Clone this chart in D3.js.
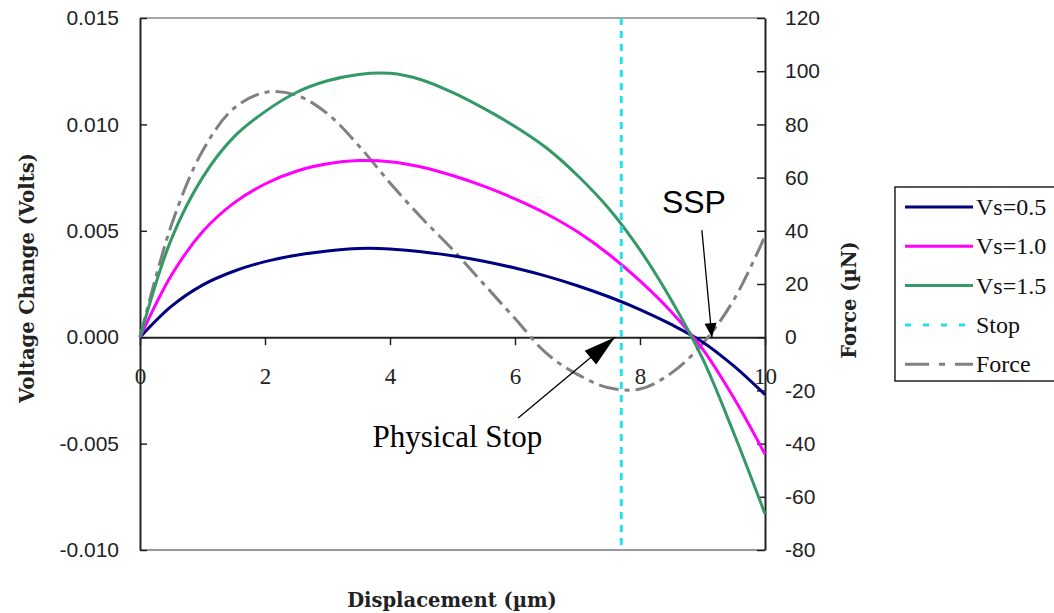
<!DOCTYPE html>
<html>
<head>
<meta charset="utf-8">
<script src="https://cdn.jsdelivr.net/npm/d3@7"></script>
<style>
  body { margin: 0; background: #fff; }
  svg { display: block; }
</style>
</head>
<body>
<div id="grafico"></div>
<script>
// Datos
const desplazamiento = [0, 0.5, 1, 1.5, 2, 2.5, 3, 3.5, 4, 4.5, 5, 5.5, 6, 6.5, 7, 7.5, 8, 8.5, 9, 9.5, 10];
const vs05 = [0, 0.00145, 0.00245, 0.0031, 0.00355, 0.00385, 0.00405, 0.00417, 0.00415, 0.00402, 0.00383, 0.00357, 0.00325, 0.00287, 0.00242, 0.0019, 0.0013, 0.0006, -0.00022, -0.00135, -0.0027];
const vs10 = [0, 0.0029, 0.00495, 0.0063, 0.0072, 0.0078, 0.00815, 0.0083, 0.00825, 0.0080, 0.0076, 0.0071, 0.0065, 0.0058, 0.00495, 0.0039, 0.00265, 0.0012, -0.00055, -0.00285, -0.0055];
const vs15 = [0, 0.0046, 0.0075, 0.0094, 0.0106, 0.0115, 0.01205, 0.01235, 0.0124, 0.0121, 0.0115, 0.01075, 0.0099, 0.0089, 0.0076, 0.00605, 0.0041, 0.00175, -0.0010, -0.0045, -0.0083];

const desplazamientoFuerza = [0, 0.5, 1, 1.5, 2, 2.5, 3, 3.5, 4, 4.5, 5, 5.5, 6, 6.5, 7, 7.5, 8, 8.5, 9, 9.5, 10];
const fuerza = [0, 42, 70, 86, 92, 91, 84, 72, 58, 45, 33, 20, 7, -6, -14, -19, -19.5, -13.5, -2.5, 14, 38];

const parada = 7.7;

const ticksVoltaje = [-0.010, -0.005, 0.000, 0.005, 0.010, 0.015];
const ticksFuerza = [-80, -60, -40, -20, 0, 20, 40, 60, 80, 100, 120];
const ticksDesp = [0, 2, 4, 6, 8, 10];

const series = [
    {nombre: "Vs=0.5", valores: vs05, color: "#000080"},
    {nombre: "Vs=1.0", valores: vs10, color: "#ff00ff"},
    {nombre: "Vs=1.5", valores: vs15, color: "#339966"}
];

const ancho = 1054, alto = 613;
const margin = {top: 18, right: 289, bottom: 63, left: 140};

// guion normal en lugar del signo menos de d3
function guion(fmt) {
    let f = d3.format(fmt);
    return function (d) { return f(d).replace("\u2212", "-"); };
}

let svg = d3.select("#grafico")
    .append("svg")
    .attr("width", ancho)
    .attr("height", alto);

let x = d3.scaleLinear()
    .domain([0, 10])
    .range([margin.left, ancho - margin.right]);

let yV = d3.scaleLinear()
    .domain([-0.010, 0.015])
    .range([alto - margin.bottom, margin.top]);

let yF = d3.scaleLinear()
    .domain([-80, 120])
    .range([alto - margin.bottom, margin.top]);

// Bordes superior e inferior
svg.append("line")
    .attr("x1", x(0)).attr("x2", x(10))
    .attr("y1", yV(0.015)).attr("y2", yV(0.015))
    .attr("stroke", "#a8a8a8").attr("stroke-width", 2);
svg.append("line")
    .attr("x1", x(0)).attr("x2", x(10))
    .attr("y1", yV(-0.010)).attr("y2", yV(-0.010))
    .attr("stroke", "#999").attr("stroke-width", 2);

// Eje izquierdo
let ejeV = svg.append("g")
    .attr("transform", "translate(" + x(0) + ",0)")
    .call(d3.axisLeft(yV).tickValues(ticksVoltaje).tickFormat(guion(".3f"))
        .tickSizeInner(-7).tickSizeOuter(0).tickPadding(21));

// Eje derecho
let ejeF = svg.append("g")
    .attr("transform", "translate(" + x(10) + ",0)")
    .call(d3.axisRight(yF).tickValues(ticksFuerza).tickFormat(guion("d"))
        .tickSizeInner(-8).tickSizeOuter(0).tickPadding(20));

// Eje X en el cero
let ejeX = svg.append("g")
    .attr("transform", "translate(0," + yV(0) + ")")
    .call(d3.axisBottom(x).tickValues(ticksDesp).tickFormat(guion("d"))
        .tickSizeInner(8).tickSizeOuter(0).tickPadding(22));

[ejeV, ejeF, ejeX].forEach(function (eje) {
    eje.select(".domain").attr("stroke", "#222").attr("stroke-width", 2);
    eje.selectAll(".tick line").attr("stroke", "#222").attr("stroke-width", 1.5);
});
ejeV.selectAll("text")
    .style("font-family", "'Liberation Sans', Arial, sans-serif")
    .style("font-size", "21px").attr("fill", "#222");
ejeF.selectAll("text")
    .style("font-family", "'Liberation Sans', Arial, sans-serif")
    .style("font-size", "21px").attr("fill", "#222")
    .attr("text-anchor", "start");
ejeX.selectAll("text")
    .style("font-family", "'Liberation Serif', 'Times New Roman', serif")
    .style("font-size", "23px").attr("fill", "#222");

// Curva de fuerza
let lineaF = d3.line()
    .x(function (d, i) { return x(desplazamientoFuerza[i]); })
    .y(function (d) { return yF(d); })
    .curve(d3.curveCatmullRom.alpha(0.5));

svg.append("path")
    .datum(fuerza)
    .attr("d", lineaF)
    .attr("fill", "none")
    .attr("stroke", "#808080")
    .attr("stroke-width", 3)
    .attr("stroke-dasharray", "20,6,5,6");

// Curvas de voltaje
let lineaV = d3.line()
    .x(function (d, i) { return x(desplazamiento[i]); })
    .y(function (d) { return yV(d); })
    .curve(d3.curveCatmullRom.alpha(0.5));

series.forEach(function (s) {
    svg.append("path")
        .datum(s.valores)
        .attr("d", lineaV)
        .attr("fill", "none")
        .attr("stroke", s.color)
        .attr("stroke-width", 3);
});

// Linea de parada
svg.append("line")
    .attr("x1", x(parada)).attr("x2", x(parada))
    .attr("y1", yV(0.015)).attr("y2", yV(-0.010))
    .attr("stroke", "#22e2e8")
    .attr("stroke-width", 3)
    .attr("stroke-dasharray", "7,6");

// Anotaciones con flechas
function flecha(x1, y1, x2, y2, largo, medio) {
    svg.append("line")
        .attr("x1", x1).attr("y1", y1)
        .attr("x2", x2).attr("y2", y2)
        .attr("stroke", "#000").attr("stroke-width", 1.3);
    let ang = Math.atan2(y2 - y1, x2 - x1);
    let bx = x2 - largo * Math.cos(ang), by = y2 - largo * Math.sin(ang);
    let px = -Math.sin(ang) * medio, py = Math.cos(ang) * medio;
    svg.append("path")
        .attr("d", "M" + x2 + "," + y2 + "L" + (bx + px) + "," + (by + py) + "L" + (bx - px) + "," + (by - py) + "Z")
        .attr("fill", "#000");
}

flecha(x(8.99), yV(0.00503), x(9.15), yV(0), 14, 6);
flecha(x(6.05), yV(-0.0038), x(7.6), yV(0), 32, 9);

svg.append("text")
    .attr("x", x(8.35)).attr("y", yV(0.00583))
    .style("font-family", "'Liberation Sans', Arial, sans-serif")
    .style("font-size", "32px")
    .text("SSP");

svg.append("text")
    .attr("x", x(3.72)).attr("y", yV(-0.00515))
    .style("font-family", "'Liberation Serif', 'Times New Roman', serif")
    .style("font-size", "31px")
    .text("Physical Stop");

// Titulos de ejes
svg.append("text")
    .attr("text-anchor", "middle")
    .attr("transform", "translate(34,278) rotate(-90)")
    .style("font-family", "'DejaVu Serif', serif")
    .style("font-weight", "bold")
    .style("font-size", "19.5px")
    .attr("fill", "#222")
    .text("Voltage Change (Volts)");

svg.append("text")
    .attr("text-anchor", "middle")
    .attr("transform", "translate(856,300) rotate(-90)")
    .style("font-family", "'DejaVu Serif', serif")
    .style("font-weight", "bold")
    .style("font-size", "19.5px")
    .attr("fill", "#222")
    .text("Force (\u00b5N)");

svg.append("text")
    .attr("text-anchor", "middle")
    .attr("x", 452).attr("y", 607)
    .style("font-family", "'DejaVu Serif', serif")
    .style("font-weight", "bold")
    .style("font-size", "19.5px")
    .attr("fill", "#222")
    .text("Displacement (\u00b5m)");

// Leyenda
let leyenda = svg.append("g").attr("id", "leyenda");
leyenda.append("rect")
    .attr("x", 895).attr("y", 187)
    .attr("width", 200).attr("height", 194)
    .attr("fill", "#fff")
    .attr("stroke", "#222").attr("stroke-width", 1.5);

let entradas = series.map(function (s) {
    return {nombre: s.nombre, color: s.color, guiones: null};
});
entradas.push({nombre: "Stop", color: "#22e2e8", guiones: "6,12"});
entradas.push({nombre: "Force", color: "#808080", guiones: "24,10,6,10"});

entradas.forEach(function (e, i) {
    let yy = 207 + i * 39.3;
    leyenda.append("line")
        .attr("x1", 905).attr("x2", 973)
        .attr("y1", yy).attr("y2", yy)
        .attr("stroke", e.color)
        .attr("stroke-width", 3)
        .attr("stroke-dasharray", e.guiones);
    leyenda.append("text")
        .attr("x", 976).attr("y", yy + 8)
        .style("font-family", "'Liberation Serif', 'Times New Roman', serif")
        .style("font-size", "24px")
        .attr("fill", "#111")
        .text(e.nombre);
});
</script>
</body>
</html>
